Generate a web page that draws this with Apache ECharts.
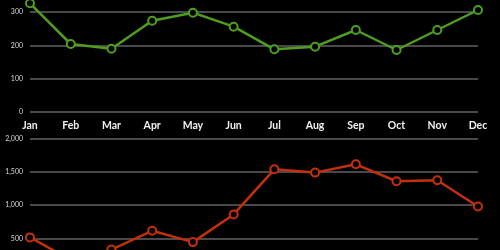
<!DOCTYPE html>
<html>
<head>
<meta charset="utf-8">
<script src="https://cdn.jsdelivr.net/npm/echarts@6/dist/echarts.min.js"></script>
<style>html,body{margin:0;padding:0;background:#000;}#c{width:500px;height:250px;}</style>
</head>
<body>
<div id="c"></div>
<script>
var months = ['Jan','Feb','Mar','Apr','May','Jun','Jul','Aug','Sep','Oct','Nov','Dec'];
var topValues = [326, 204, 190, 274, 298, 256, 188, 196, 246, 186, 246, 306];
var bottomValues = [516, 178, 333, 615, 445, 861, 1540, 1490, 1615, 1360, 1375, 981];
var topTicks = [0, 100, 200, 300];
var bottomTicks = [0, 500, 1000, 1500, 2000];

var chart = echarts.init(document.getElementById('c'), null, {renderer: 'canvas'});
var yLabel = {color: '#d8d8d8', fontSize: 7, fontFamily: 'Lato', margin: 7,
  formatter: function (v) { return v.toLocaleString('en-US'); }};
var split = {show: true, lineStyle: {color: '#626262', width: 1.5}};
chart.setOption({
  backgroundColor: '#000',
  animation: false,
  grid: [
    {left: 30, right: 22, top: 12, height: 100, outerBoundsMode: 'none', containLabel: false},
    {left: 30, right: 22, top: 138.7, bottom: -21.7, outerBoundsMode: 'none', containLabel: false}
  ],
  xAxis: [
    {gridIndex: 0, type: 'category', data: months, boundaryGap: false,
     axisLine: {show: false}, axisTick: {show: false}, splitLine: {show: false},
     axisLabel: {color: '#f0f0f0', fontSize: 10.5, fontWeight: 'bold', fontFamily: 'Lato', margin: 8}},
    {gridIndex: 1, type: 'category', data: months, boundaryGap: false, show: false}
  ],
  yAxis: [
    {gridIndex: 0, type: 'value', min: topTicks[0], max: topTicks[topTicks.length - 1], interval: 100,
     axisLine: {show: false}, axisTick: {show: false}, splitLine: split, axisLabel: yLabel},
    {gridIndex: 1, type: 'value', min: bottomTicks[0], max: bottomTicks[bottomTicks.length - 1], interval: 500,
     axisLine: {show: false}, axisTick: {show: false}, splitLine: split, axisLabel: yLabel}
  ],
  series: [
    {type: 'line', xAxisIndex: 0, yAxisIndex: 0, data: topValues, clip: false,
     symbol: 'circle', symbolSize: 8,
     lineStyle: {color: '#4e9e21', width: 2.5},
     itemStyle: {color: '#000', borderColor: '#4e9e21', borderWidth: 2}},
    {type: 'line', xAxisIndex: 1, yAxisIndex: 1, data: bottomValues, clip: false,
     symbol: 'circle', symbolSize: 8,
     lineStyle: {color: '#c4300c', width: 2.5},
     itemStyle: {color: '#000', borderColor: '#c4300c', borderWidth: 2}}
  ]
});
</script>
</body>
</html>
